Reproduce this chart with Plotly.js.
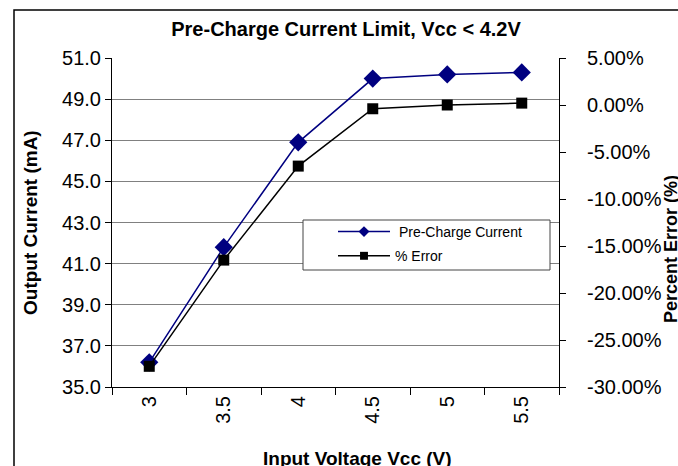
<!DOCTYPE html>
<html>
<head>
<meta charset="utf-8">
<script src="https://cdn.plot.ly/plotly-3.0.1.min.js"></script>
<style>
  html, body { margin: 0; padding: 0; background: #fff; }
  #chart { width: 678px; height: 466px; }
</style>
</head>
<body>
<div id="chart"></div>
<script>
// ---- data ----
const voltages = ['3', '3.5', '4', '4.5', '5', '5.5'];
const preChargeCurrent = [36.2, 41.8, 46.9, 50.0, 50.2, 50.3];   // mA (left axis)
const percentError = [-27.8, -16.5, -6.5, -0.4, 0.0, 0.2];        // % (right axis)
const seriesNames = ['\u00a0Pre-Charge Current', '% Error'];
const errorTickVals = [5, 0, -5, -10, -15, -20, -25, -30];
const errorTickText = ['5.00%', '0.00%', '-5.00%', '-10.00%', '-15.00%', '-20.00%', '-25.00%', '-30.00%'];

const FONT = 'Liberation Sans, Arial, sans-serif';

// plot area in pixels: left 112, right 559, top 58, bottom 387
const M = {l: 112, r: 119, t: 58, b: 79};
const PW = 678 - M.l - M.r, PH = 466 - M.t - M.b;
const px = x => (x - M.l) / PW;
const py = y => (466 - M.b - y) / PH;

const traces = [
  {
    x: voltages, y: preChargeCurrent, name: seriesNames[0], legendgroup: 'a',
    type: 'scatter', mode: 'lines+markers', yaxis: 'y',
    line: {color: '#000080', width: 1.5},
    marker: {symbol: 'diamond', size: 14, color: '#000080'}
  },
  {
    x: voltages, y: percentError, name: seriesNames[1], legendgroup: 'b',
    type: 'scatter', mode: 'lines+markers', yaxis: 'y2',
    line: {color: '#000000', width: 1.5},
    marker: {symbol: 'square', size: 11, color: '#000000'}
  }
];

const layout = {
  width: 678, height: 466,
  margin: M,
  paper_bgcolor: '#ffffff', plot_bgcolor: '#ffffff',
  font: {family: FONT, color: '#000', size: 20},
  showlegend: true,
  title: {
    text: 'Pre-Charge Current Limit, Vcc < 4.2V',
    font: {family: FONT, size: 20, weight: 'bold', color: '#000'},
    x: 346 / 678, xanchor: 'center', xref: 'container',
    y: 1 - 29 / 466, yanchor: 'middle', yref: 'container'
  },
  xaxis: {
    type: 'category', range: [-0.5, 5.5],
    tickson: 'boundaries', ticks: 'outside', ticklen: 7, tickcolor: '#000', tickwidth: 1,
    tickangle: -90, tickfont: {family: FONT, size: 20, color: '#000'},
    showgrid: false, showline: true, linecolor: '#000', linewidth: 1,
    zeroline: false, fixedrange: true
  },
  yaxis: {
    range: [35, 51], dtick: 2, tick0: 35, tickformat: '.1f',
    ticks: 'outside', ticklen: 6, tickcolor: '#000',
    tickfont: {family: FONT, size: 20, color: '#000'},
    showgrid: true, gridcolor: '#808080', gridwidth: 1,
    showline: true, linecolor: '#000', linewidth: 1,
    zeroline: false, fixedrange: true
  },
  yaxis2: {
    overlaying: 'y', side: 'right', anchor: 'x',
    range: [-30, 5], tickmode: 'array', tickvals: errorTickVals, ticktext: errorTickText,
    ticks: 'outside', ticklen: 6, tickcolor: '#000',
    ticklabelstandoff: 17,
    tickfont: {family: FONT, size: 20, color: '#000'},
    showgrid: false, showline: true, linecolor: '#000', linewidth: 1,
    zeroline: false, fixedrange: true
  },
  yaxis3: {
    overlaying: 'y', side: 'right', anchor: 'x',
    range: [-30, 5], tickmode: 'array', tickvals: errorTickVals,
    ticks: 'inside', ticklen: 6, tickcolor: '#000',
    showticklabels: false, showgrid: false, showline: false,
    zeroline: false, fixedrange: true
  },
  legend: {
    x: px(333), xanchor: 'left', y: py(216), yanchor: 'top',
    bgcolor: 'rgba(0,0,0,0)', borderwidth: 0,
    font: {family: FONT, size: 14, color: '#000'},
    itemwidth: 52, traceorder: 'grouped', tracegroupgap: 3
  },
  shapes: [
    // outer chart frame
    {type: 'rect', xref: 'paper', yref: 'paper',
     x0: px(14), x1: px(720), y0: py(500), y1: py(10),
     line: {color: '#000', width: 1.5}, fillcolor: 'rgba(0,0,0,0)', layer: 'below'},
    // legend box
    {type: 'rect', xref: 'paper', yref: 'paper',
     x0: px(303), x1: px(550), y0: py(270), y1: py(220),
     line: {color: '#444', width: 1}, fillcolor: '#ffffff', layer: 'above'}
  ],
  annotations: [
    {text: 'Output Current (mA)', textangle: -90, showarrow: false,
     xref: 'paper', yref: 'paper', x: px(30), y: py(223), xanchor: 'center', yanchor: 'middle',
     font: {family: FONT, size: 19, weight: 'bold', color: '#000'}},
    {text: 'Percent Error (%)', textangle: -90, showarrow: false,
     xref: 'paper', yref: 'paper', x: px(671), y: py(249), xanchor: 'center', yanchor: 'middle',
     font: {family: FONT, size: 18, weight: 'bold', color: '#000'}},
    {text: 'Input Voltage Vcc (V)', showarrow: false,
     xref: 'paper', yref: 'paper', x: px(357), y: py(458), xanchor: 'center', yanchor: 'middle',
     font: {family: FONT, size: 19, weight: 'bold', color: '#000'}}
  ]
};

Plotly.newPlot('chart', traces, layout, {staticPlot: true, displayModeBar: false}).then(gd => {
  // shrink legend symbols to the reference's small markers
  const scales = [0.6, 0.72];
  gd.querySelectorAll('.legend .traces').forEach((g, i) => {
    g.querySelectorAll('.legendpoints path.scatterpts').forEach(p => {
      const t = p.getAttribute('transform') || '';
      p.setAttribute('transform', t + ' scale(' + (scales[i] || 0.7) + ')');
    });
  });
});
</script>
</body>
</html>
